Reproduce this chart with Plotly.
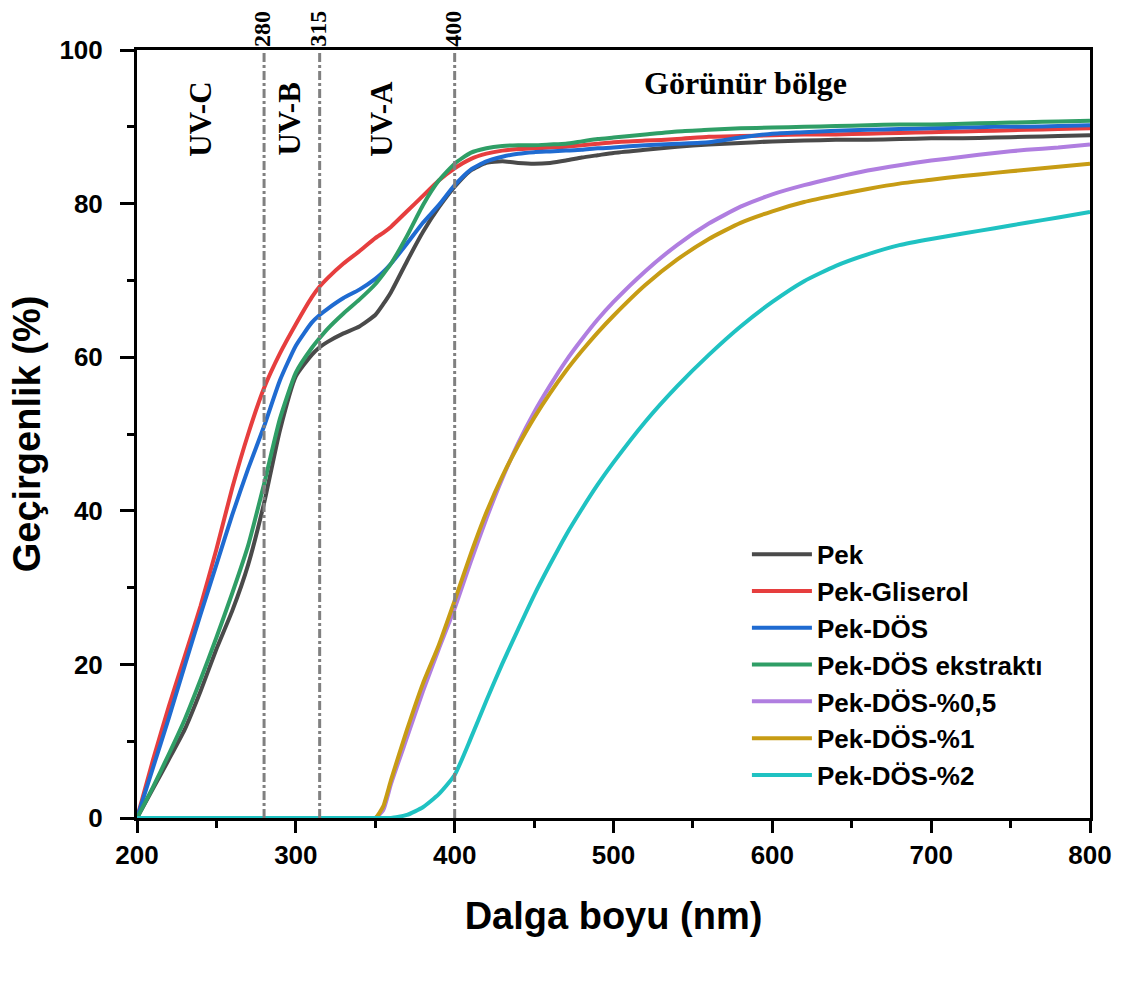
import plotly.graph_objects as go

wavelength = [200, 210, 220, 230, 240, 250, 260, 270, 280, 290, 300, 310, 315, 320, 330, 340, 350, 355, 360, 370, 380, 390,
              400, 410, 420, 430, 440, 450, 460, 470, 480, 490, 500, 520, 540, 560, 580, 600, 620, 640, 660, 680,
              700, 720, 740, 760, 780, 800]

pek = [0, 3.8, 7.6, 11.5, 16.5, 22, 27, 33, 41, 50.5, 57.5, 60.3, 61.3, 62, 63.1, 64, 65.5, 66.9, 68.5, 72.5, 76.3, 79.5,
       82.2, 84.3, 85.3, 85.5, 85.3, 85.2, 85.3, 85.6, 86, 86.3, 86.6, 87, 87.4, 87.7, 87.9, 88.1, 88.2, 88.3, 88.3, 88.4,
       88.5, 88.5, 88.6, 88.7, 88.8, 88.9]
pek_gliserol = [0, 7.5, 14.5, 21, 27.6, 35, 43, 50, 56, 60.5, 64.3, 67.8, 69.2, 70.3, 72.2, 73.8, 75.5, 76.2, 77, 79, 81, 83,
                84.6, 85.8, 86.5, 86.9, 87.1, 87.2, 87.3, 87.4, 87.6, 87.8, 88, 88.2, 88.4, 88.7, 88.8, 88.9, 89, 89, 89.1, 89.2,
                89.3, 89.4, 89.5, 89.6, 89.7, 89.8]
pek_dos = [0, 6.5, 13, 19.8, 26.5, 33, 39.5, 45.5, 51, 57, 61.5, 64.5, 65.5, 66.3, 67.7, 68.8, 70.2, 71.1, 72.2, 74.8, 77.5, 79.8,
           82.4, 84.4, 85.5, 86.1, 86.5, 86.7, 86.8, 86.9, 87, 87.2, 87.3, 87.6, 87.8, 88, 88.6, 89.1, 89.3, 89.5, 89.6, 89.7,
           89.8, 89.9, 90, 90, 90.1, 90.2]
pek_dos_ekstrakt = [0, 4, 8.3, 12.8, 18, 23.5, 29.3, 35.5, 43.5, 52, 58, 61.2, 62.5, 63.7, 65.7, 67.5, 69.5, 70.8, 72.2, 75.8, 79.8, 83,
                    85.2, 86.6, 87.2, 87.5, 87.6, 87.6, 87.7, 87.8, 88.1, 88.4, 88.6, 89, 89.4, 89.6, 89.8, 89.9, 90, 90.1, 90.2, 90.3,
                    90.3, 90.4, 90.5, 90.6, 90.7, 90.8]
pek_dos_05 = [0, 0, 0, 0, 0, 0, 0, 0, 0, 0, 0, 0, 0, 0, 0, 0, 0, 1, 4.5, 10.5, 16.5, 22,
              27.3, 33.3, 39, 44.2, 48.8, 52.8, 56.3, 59.5, 62.3, 64.9, 67.2, 71.2, 74.6, 77.4, 79.6, 81.2, 82.4, 83.4, 84.3, 85,
              85.6, 86.1, 86.6, 87, 87.3, 87.7]
pek_dos_1 = [0, 0, 0, 0, 0, 0, 0, 0, 0, 0, 0, 0, 0, 0, 0, 0, 0, 1.5, 5, 11.5, 17.5, 22.5,
             28.3, 34.3, 39.8, 44.5, 48.5, 52.1, 55.3, 58.2, 60.8, 63.2, 65.4, 69.4, 72.7, 75.4, 77.5, 79, 80.2, 81.1, 81.9, 82.6,
             83.1, 83.6, 84, 84.4, 84.8, 85.2]
pek_dos_2 = [0, 0, 0, 0, 0, 0, 0, 0, 0, 0, 0, 0, 0, 0, 0, 0, 0, 0, 0, 0.4, 1.4, 3.1,
             5.6, 10.3, 15.3, 20.1, 24.6, 29, 33, 36.8, 40.2, 43.4, 46.3, 51.6, 56.2, 60.3, 64, 67.2, 69.9, 71.9, 73.4, 74.6,
             75.4, 76.1, 76.8, 77.5, 78.2, 78.9]

series_names = ["Pek", "Pek-Gliserol", "Pek-DÖS", "Pek-DÖS ekstraktı", "Pek-DÖS-%0,5", "Pek-DÖS-%1", "Pek-DÖS-%2"]
series_values = [pek, pek_gliserol, pek_dos, pek_dos_ekstrakt, pek_dos_05, pek_dos_1, pek_dos_2]
colors = ["#4a4a4a", "#e63e3e", "#1f6bd1", "#2f9e66", "#b07ee0", "#c79c14", "#1fc2c2"]

region_lines = [280, 315, 400]
region_line_labels = ["280", "315", "400"]
uv_labels = ["UV-C", "UV-B", "UV-A"]
uv_label_x = [240, 296, 354]

fig = go.Figure()
for i, (name, vals, col) in enumerate(zip(series_names, series_values, colors)):
    fig.add_trace(go.Scatter(x=wavelength, y=vals, name=name, mode="lines", legendgroup=str(i),
                             line=dict(color=col, width=4, shape="spline", smoothing=0.5)))

for xv, lab in zip(region_lines, region_line_labels):
    fig.add_shape(type="line", x0=xv, x1=xv, y0=0, y1=100, xref="x", yref="y",
                  line=dict(color="#808080", width=3, dash="dashdot"))
    fig.add_annotation(x=xv, y=1.0, xref="x", yref="paper", text=lab, textangle=-90,
                       showarrow=False, yanchor="bottom", xanchor="center", xshift=-2, yshift=1,
                       font=dict(family="Liberation Serif", size=24, color="black", weight="bold"))

for xv, lab in zip(uv_label_x, uv_labels):
    fig.add_annotation(x=xv, y=91, xref="x", yref="y", text=lab, textangle=-90,
                       showarrow=False, font=dict(family="Liberation Serif", size=31, color="black", weight="bold"))

fig.add_annotation(x=583, y=95.7, xref="x", yref="y", text="Görünür bölge", showarrow=False,
                   font=dict(family="Liberation Serif", size=32, color="black", weight="bold"))

axis_font = dict(family="Liberation Sans", size=26, color="black", weight="bold")
fig.update_xaxes(range=[200, 800], tickvals=[200, 300, 400, 500, 600, 700, 800],
                 ticks="outside", ticklen=12, tickwidth=2.5, tickcolor="black",
                 minor=dict(dtick=50, tick0=200, ticks="outside", ticklen=7, tickwidth=2.5, tickcolor="black"),
                 showline=True, linecolor="black", linewidth=3, mirror=True,
                 showgrid=False, zeroline=False, tickfont=axis_font,
                 title=dict(text="Dalga boyu (nm)",
                            font=dict(family="Liberation Sans", size=38, color="black", weight="bold"),
                            standoff=34))
fig.update_yaxes(range=[0, 100], tickvals=[0, 20, 40, 60, 80, 100],
                 ticks="outside", ticklen=14, tickwidth=2.5, tickcolor="black", ticklabelstandoff=12,
                 minor=dict(dtick=10, tick0=0, ticks="outside", ticklen=7, tickwidth=2.5, tickcolor="black"),
                 showline=True, linecolor="black", linewidth=3, mirror=True,
                 showgrid=False, zeroline=False, tickfont=axis_font,
                 title=dict(text="Geçirgenlik (%)",
                            font=dict(family="Liberation Sans", size=38, color="black", weight="bold"),
                            standoff=8))

fig.update_layout(
    width=1126, height=985,
    margin=dict(l=137, r=36, t=50, b=167),
    plot_bgcolor="white", paper_bgcolor="white",
    legend=dict(x=0.64, y=0.374, xanchor="left", yanchor="top", bgcolor="rgba(0,0,0,0)",
                font=dict(family="Liberation Sans", size=26, color="black", weight="bold"),
                itemwidth=60, tracegroupgap=0),
    showlegend=True,
)

fig.write_html("out.html")
